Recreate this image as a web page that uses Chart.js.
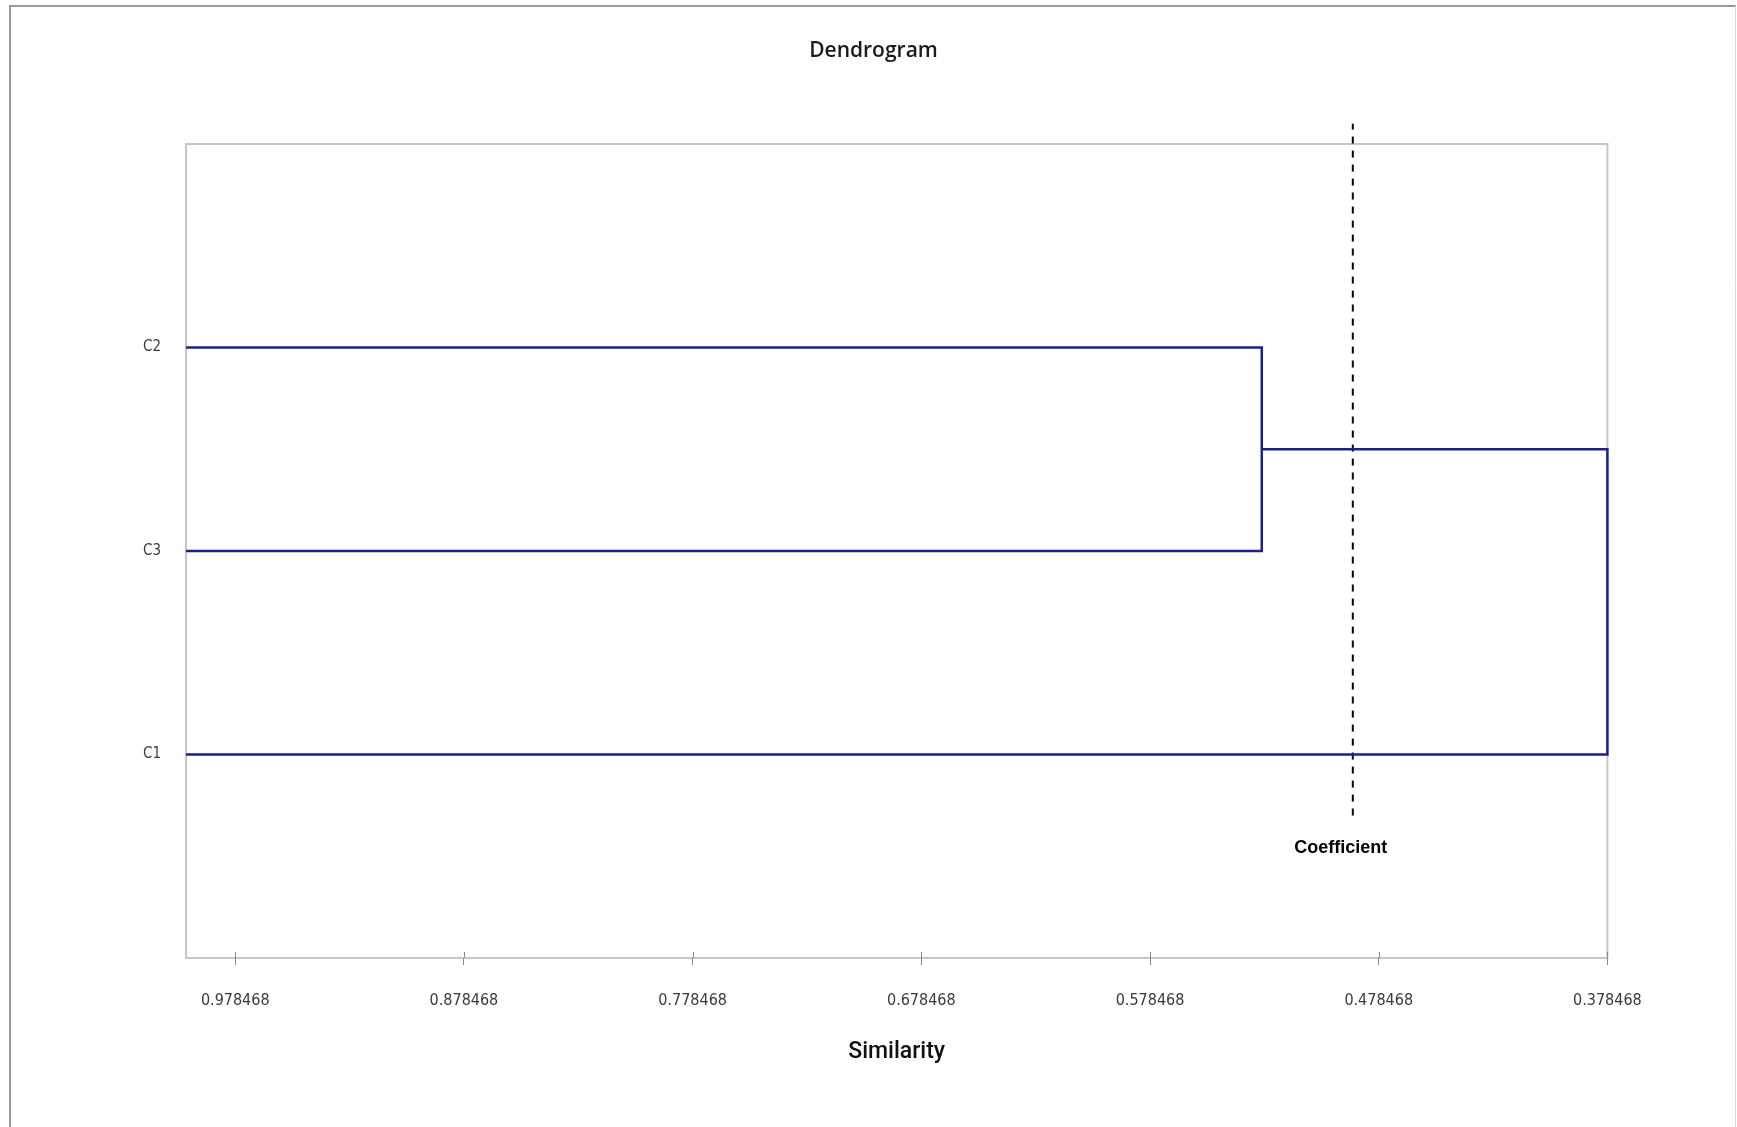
<!DOCTYPE html>
<html>
<head>
<meta charset="utf-8">
<script src="https://cdn.jsdelivr.net/npm/chart.js@4/dist/chart.umd.min.js"></script>
<style>
  html, body { margin: 0; padding: 0; background: #ffffff; }
  canvas { display: block; }
</style>
</head>
<body>
<canvas id="c" width="1737" height="1127"></canvas>
<script>
// ---- data ----
const leafLabels = ['C1', 'C3', 'C2'];          // bottom to top
const leafPositions = [1, 2, 3];
const leafSimilarity = 1.0;                      // leaves start at similarity 1
const mergeC2C3 = 0.5296;                         // similarity where C2 and C3 join
const mergeRoot = 0.378468;                       // similarity where C1 joins the cluster
const coefficient = 0.4898;                       // cut-off coefficient (dashed line)
const coefficientSpan = [0.7, 4.1];               // vertical extent of dashed line (y units)
const coefficientLabelY = 0.54;
const xTickValues = [0.978468, 0.878468, 0.778468, 0.678468, 0.578468, 0.478468, 0.378468];
const yRange = [0, 4];

// ---- build links from the data ----
const yC1 = leafPositions[leafLabels.indexOf('C1')];
const yC3 = leafPositions[leafLabels.indexOf('C3')];
const yC2 = leafPositions[leafLabels.indexOf('C2')];
const yMid = (yC2 + yC3) / 2;

const linkC2C3 = [
  {x: leafSimilarity, y: yC2}, {x: mergeC2C3, y: yC2},
  {x: mergeC2C3, y: yC3}, {x: leafSimilarity, y: yC3}
];
const linkRoot = [
  {x: mergeC2C3, y: yMid}, {x: mergeRoot, y: yMid},
  {x: mergeRoot, y: yC1}, {x: leafSimilarity, y: yC1}
];
const cutLine = [
  {x: coefficient, y: coefficientSpan[0]}, {x: coefficient, y: coefficientSpan[1]}
];

const NAVY = '#1f1f8c';

const framePlugin = {
  id: 'frame',
  beforeDraw(chart) {
    const ctx = chart.ctx;
    ctx.save();
    ctx.fillStyle = '#ffffff';
    ctx.fillRect(0, 0, chart.width, chart.height);
    // outer chart frame
    ctx.strokeStyle = '#9a9a9a';
    ctx.lineWidth = 2;
    ctx.beginPath();
    ctx.moveTo(10, chart.height + 5);
    ctx.lineTo(10, 6);
    ctx.lineTo(chart.width - 1, 6);
    ctx.stroke();
    ctx.strokeStyle = '#d8d8d8';
    ctx.lineWidth = 1;
    ctx.beginPath();
    ctx.moveTo(chart.width - 1.5, 6);
    ctx.lineTo(chart.width - 1.5, chart.height + 5);
    ctx.stroke();
    // plot area frame
    const a = chart.chartArea;
    ctx.strokeStyle = '#c6c6c6';
    ctx.lineWidth = 2;
    ctx.strokeRect(a.left, a.top, a.right - a.left, a.bottom - a.top);
    // inner halves of x tick marks
    const xs = chart.scales.x;
    ctx.strokeStyle = '#8a8a8a';
    ctx.lineWidth = 1;
    ctx.beginPath();
    xs.ticks.forEach(t => {
      const px = Math.round(xs.getPixelForValue(t.value)) + 0.5;
      ctx.moveTo(px, a.bottom);
      ctx.lineTo(px, a.bottom - 6);
    });
    ctx.stroke();
    ctx.restore();
  },
  afterDatasetsDraw(chart) {
    const ctx = chart.ctx;
    const xs = chart.scales.x, ys = chart.scales.y;
    ctx.save();
    ctx.fillStyle = '#000000';
    ctx.font = 'bold 18px "Liberation Sans", Arial, sans-serif';
    ctx.textAlign = 'center';
    ctx.textBaseline = 'middle';
    ctx.fillText('Coefficient', xs.getPixelForValue(coefficient) - 12, ys.getPixelForValue(coefficientLabelY));
    ctx.restore();
  }
};

new Chart(document.getElementById('c'), {
  type: 'scatter',
  data: {
    datasets: [
      {data: linkC2C3, showLine: true, borderColor: NAVY, borderWidth: 2.5, pointRadius: 0, fill: false, tension: 0},
      {data: linkRoot, showLine: true, borderColor: NAVY, borderWidth: 2.5, pointRadius: 0, fill: false, tension: 0, clip: false},
      {data: cutLine, showLine: true, borderColor: '#000000', borderWidth: 2, borderDash: [7, 7], pointRadius: 0, fill: false, clip: false}
    ]
  },
  options: {
    responsive: false,
    animation: false,
    events: [],
    layout: {padding: {left: 10, right: 0, top: 0, bottom: 0}},
    plugins: {
      legend: {display: false},
      tooltip: {enabled: false},
      title: {
        display: true,
        text: 'Dendrogram',
        color: '#1a1a1a',
        font: {family: '"Open Sans", sans-serif', size: 21, weight: '600', lineHeight: 1.2},
        padding: {top: 38, bottom: 80.8}
      }
    },
    scales: {
      x: {
        type: 'linear',
        reverse: true,
        min: mergeRoot,
        max: leafSimilarity,
        afterBuildTicks: (axis) => { axis.ticks = xTickValues.map(v => ({value: v})); },
        afterFit: (axis) => { axis.height = 169; },
        grid: {drawOnChartArea: false, drawTicks: true, tickLength: 7, color: '#8a8a8a', lineWidth: 1},
        border: {display: false},
        ticks: {
          autoSkip: false,
          maxRotation: 0,
          padding: 26,
          color: '#3a3a3a',
          font: {family: '"DejaVu Sans Condensed", "Liberation Sans Narrow", Roboto, sans-serif', size: 16},
          callback: (v) => Number(v).toFixed(6)
        },
        title: {
          display: true,
          text: 'Similarity',
          color: '#111111',
          font: {family: 'Roboto, sans-serif', size: 23, weight: '500', lineHeight: 1.2},
          padding: {top: 0, bottom: 61}
        }
      },
      y: {
        type: 'linear',
        min: yRange[0],
        max: yRange[1],
        afterBuildTicks: (axis) => { axis.ticks = leafPositions.map(v => ({value: v})); },
        afterFit: (axis) => { axis.width = 176; },
        grid: {display: false, drawTicks: false},
        border: {display: false},
        ticks: {
          padding: 25,
          color: '#3a3a3a',
          font: {family: '"DejaVu Sans Condensed", "Liberation Sans Narrow", Roboto, sans-serif', size: 15},
          callback: (v) => leafLabels[leafPositions.indexOf(v)]
        }
      },
      yRight: {
        type: 'linear',
        position: 'right',
        display: true,
        afterFit: (axis) => { axis.width = 129.6; },
        grid: {display: false, drawTicks: false},
        border: {display: false},
        ticks: {display: false}
      }
    }
  },
  plugins: [framePlugin]
});
</script>
</body>
</html>
